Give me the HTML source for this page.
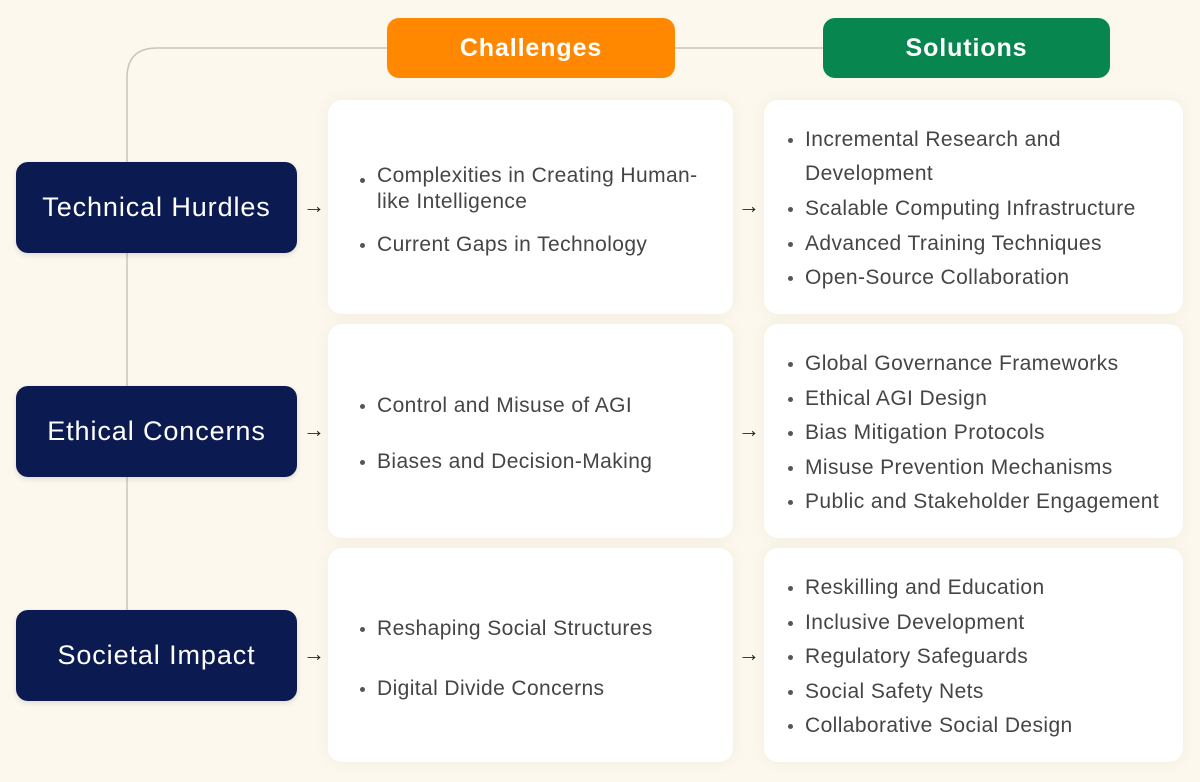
<!DOCTYPE html>
<html><head><meta charset="utf-8"><style>
body{margin:0;width:1200px;height:782px;background:#fcf8ee;position:relative;overflow:hidden;font-family:"Liberation Sans",sans-serif}
.a{position:absolute}
.nav{background:#0b1a50;border-radius:12px;color:#fff;font-size:27px;letter-spacing:0.9px;display:flex;align-items:center;justify-content:center;left:16px;width:281px;height:91px;box-shadow:0 2px 6px rgba(0,0,0,.12)}
.hd{color:#fff;font-size:25px;font-weight:bold;letter-spacing:0.9px;display:flex;align-items:center;justify-content:center;border-radius:12px;top:18px;height:60px}
.card{background:#fff;border-radius:14px;box-shadow:0 0 14px rgba(180,160,110,.12)}
.c{left:328px;width:405px;height:214px}
.s{left:764px;width:419px;height:214px}
.t{font-size:21px;letter-spacing:0.4px;color:#454545;line-height:34px;white-space:nowrap}
.t::before{content:"";position:absolute;left:-17px;top:15px;width:5px;height:5px;border-radius:50%;background:#555}
.ar{font-size:22px;color:#222;line-height:24px}
</style></head><body>
<svg class="a" style="left:0;top:0" width="1200" height="782">
<path d="M127 610 V78 Q127 48 157 48 H387" fill="none" stroke="#c9c5bb" stroke-width="1.5"/>
<path d="M675 48 H823" fill="none" stroke="#c9c5bb" stroke-width="1.5"/>
</svg>
<div class="a hd" style="left:387px;width:288px;background:#ff8800">Challenges</div>
<div class="a hd" style="left:823px;width:287px;background:#078650">Solutions</div>

<div class="a nav" style="top:162px">Technical Hurdles</div>
<div class="a nav" style="top:386px">Ethical Concerns</div>
<div class="a nav" style="top:610px">Societal Impact</div>

<div class="a ar" style="left:303px;top:194px">→</div>
<div class="a ar" style="left:303px;top:418px">→</div>
<div class="a ar" style="left:303px;top:642px">→</div>
<div class="a ar" style="left:738px;top:194px">→</div>
<div class="a ar" style="left:738px;top:418px">→</div>
<div class="a ar" style="left:738px;top:642px">→</div>

<div class="a card c" style="top:100px"></div>
<div class="a card c" style="top:324px"></div>
<div class="a card c" style="top:548px"></div>
<div class="a card s" style="top:100px"></div>
<div class="a card s" style="top:324px"></div>
<div class="a card s" style="top:548px"></div>

<div class="a t" style="left:377px;top:163px;line-height:26px">Complexities in Creating Human-<br>like Intelligence</div>
<div class="a t" style="left:377px;top:228px">Current Gaps in Technology</div>
<div class="a t" style="left:377px;top:389px">Control and Misuse of AGI</div>
<div class="a t" style="left:377px;top:445px">Biases and Decision-Making</div>
<div class="a t" style="left:377px;top:612px">Reshaping Social Structures</div>
<div class="a t" style="left:377px;top:672px">Digital Divide Concerns</div>

<div class="a t" style="left:805px;top:123px">Incremental Research and<br>Development</div>
<div class="a t" style="left:805px;top:192px">Scalable Computing Infrastructure</div>
<div class="a t" style="left:805px;top:227px">Advanced Training Techniques</div>
<div class="a t" style="left:805px;top:261px">Open-Source Collaboration</div>

<div class="a t" style="left:805px;top:347px">Global Governance Frameworks</div>
<div class="a t" style="left:805px;top:382px">Ethical AGI Design</div>
<div class="a t" style="left:805px;top:416px">Bias Mitigation Protocols</div>
<div class="a t" style="left:805px;top:451px">Misuse Prevention Mechanisms</div>
<div class="a t" style="left:805px;top:485px">Public and Stakeholder Engagement</div>

<div class="a t" style="left:805px;top:571px">Reskilling and Education</div>
<div class="a t" style="left:805px;top:606px">Inclusive Development</div>
<div class="a t" style="left:805px;top:640px">Regulatory Safeguards</div>
<div class="a t" style="left:805px;top:675px">Social Safety Nets</div>
<div class="a t" style="left:805px;top:709px">Collaborative Social Design</div>
</body></html>
